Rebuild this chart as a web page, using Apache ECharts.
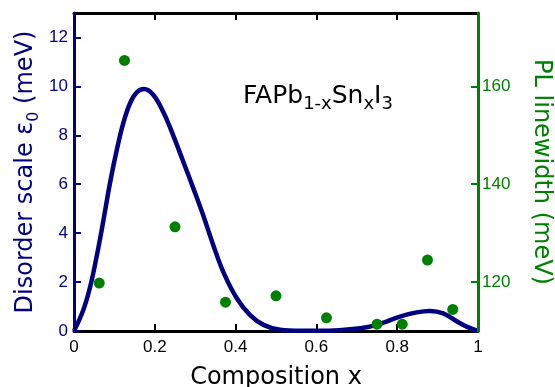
<!DOCTYPE html>
<html>
<head>
<meta charset="utf-8">
<script src="https://cdn.jsdelivr.net/npm/echarts@6/dist/echarts.min.js"></script>
<style>
  html, body { margin: 0; padding: 0; background: #fff; }
  #chart { width: 555px; height: 387px; }
</style>
</head>
<body>
<div id="chart"></div>
<script>
// disorder scale curve
const curveX = [0, 0.023, 0.04, 0.056, 0.073, 0.089, 0.106, 0.122, 0.139, 0.155, 0.173, 0.196, 0.221, 0.246, 0.271, 0.295, 0.32, 0.345, 0.37, 0.403, 0.436, 0.469, 0.51, 0.56, 0.62, 0.683, 0.724, 0.766, 0.807, 0.848, 0.881, 0.914, 0.947, 0.972, 1];
const curveEps = [0, 0.86, 1.81, 3.04, 4.54, 6.04, 7.41, 8.5, 9.32, 9.75, 9.89, 9.66, 8.95, 7.98, 6.9, 5.85, 4.72, 3.5, 2.4, 1.34, 0.65, 0.25, 0.05, 0.01, 0.01, 0.07, 0.15, 0.34, 0.59, 0.76, 0.82, 0.72, 0.4, 0.18, 0];

// PL linewidth points
const plX = [0.0625, 0.125, 0.25, 0.375, 0.5, 0.625, 0.75, 0.8125, 0.875, 0.9375];
const plWidth = [119.8, 165.3, 131.3, 115.9, 117.2, 112.7, 111.4, 111.4, 124.5, 114.4];

const xTicks = [0, 1, 0.2];
const epsTicks = [0, 13, 2];
const plRange = [110, 175];
const plTicks = [120, 140, 160];

const navy = '#000080';
const green = '#008000';

const chart = echarts.init(document.getElementById('chart'));

chart.setOption({
  animation: false,
  grid: { left: 74, right: 77, top: 13, bottom: 56, outerBoundsMode: 'none', containLabel: false },
  xAxis: [
    {
      type: 'value',
      min: xTicks[0],
      max: xTicks[1],
      interval: xTicks[2],
      position: 'bottom',
      name: 'Composition x',
      nameLocation: 'middle',
      nameGap: 35,
      nameTextStyle: { fontFamily: 'DejaVu Sans', fontSize: 24, color: '#000' },
      axisLine: { onZero: false, lineStyle: { color: '#000', width: 3 } },
      axisTick: { inside: true, length: 7, lineStyle: { color: '#000', width: 2 } },
      axisLabel: { fontFamily: 'Liberation Sans', fontSize: 17, color: '#000', margin: 8 },
      splitLine: { show: false },
    },
    {
      type: 'value',
      min: xTicks[0],
      max: xTicks[1],
      interval: xTicks[2],
      position: 'top',
      axisLine: { onZero: false, lineStyle: { color: '#000', width: 3 } },
      axisTick: { inside: true, length: 7, lineStyle: { color: '#000', width: 2 } },
      axisLabel: { show: false },
      splitLine: { show: false },
    },
  ],
  yAxis: [
    {
      type: 'value',
      min: epsTicks[0],
      max: epsTicks[1],
      interval: epsTicks[2],
      position: 'left',
      name: 'Disorder scale ε{sub|0} (meV)',
      nameLocation: 'middle',
      nameRotate: 90,
      nameGap: 32,
      nameMoveOverlap: false,
      nameTextStyle: {
        fontFamily: 'DejaVu Sans',
        fontSize: 24,
        color: navy,
        lineHeight: 32,
        rich: {
          sub: { fontFamily: 'DejaVu Sans', fontSize: 16, color: navy, verticalAlign: 'bottom', lineHeight: 14 },
        },
      },
      axisLine: { onZero: false, lineStyle: { color: navy, width: 3 } },
      axisTick: { inside: true, length: 7, lineStyle: { color: navy, width: 2 } },
      axisLabel: { fontFamily: 'Liberation Sans', fontSize: 17, color: navy, margin: 6, showMaxLabel: false },
      splitLine: { show: false },
      z: 5,
    },
    {
      type: 'value',
      min: plRange[0],
      max: plRange[1],
      position: 'right',
      name: 'PL linewidth (meV)',
      nameLocation: 'middle',
      nameRotate: -90,
      nameGap: 51,
      nameTextStyle: { fontFamily: 'DejaVu Sans', fontSize: 24, color: green },
      axisLine: { onZero: false, lineStyle: { color: green, width: 3 } },
      axisTick: { inside: true, length: 7, customValues: plTicks, lineStyle: { color: green, width: 2 } },
      axisLabel: { fontFamily: 'Liberation Sans', fontSize: 17, color: green, margin: 4, customValues: plTicks },
      splitLine: { show: false },
      z: 5,
    },
  ],
  graphic: [
    {
      type: 'text',
      left: 243,
      top: 80,
      style: {
        text: 'FAPb{s|1-x}Sn{s|x}I{s|3}',
        fontFamily: 'DejaVu Sans',
        fontSize: 25,
        lineHeight: 33,
        fill: '#000',
        rich: {
          s: { fontFamily: 'DejaVu Sans', fontSize: 18, fill: '#000', verticalAlign: 'bottom', lineHeight: 15 },
        },
      },
    },
  ],
  series: [
    {
      type: 'line',
      name: 'Disorder',
      xAxisIndex: 0,
      yAxisIndex: 0,
      symbol: 'none',
      smooth: 0.4,
      lineStyle: { color: navy, width: 4.5 },
      data: curveX.map((x, i) => [x, curveEps[i]]),
      z: 3,
    },
    {
      type: 'scatter',
      name: 'PL',
      xAxisIndex: 0,
      yAxisIndex: 1,
      symbolSize: 11,
      itemStyle: { color: green, opacity: 1 },
      data: plX.map((x, i) => [x, plWidth[i]]),
      z: 4,
    },
  ],
});
</script>
</body>
</html>
